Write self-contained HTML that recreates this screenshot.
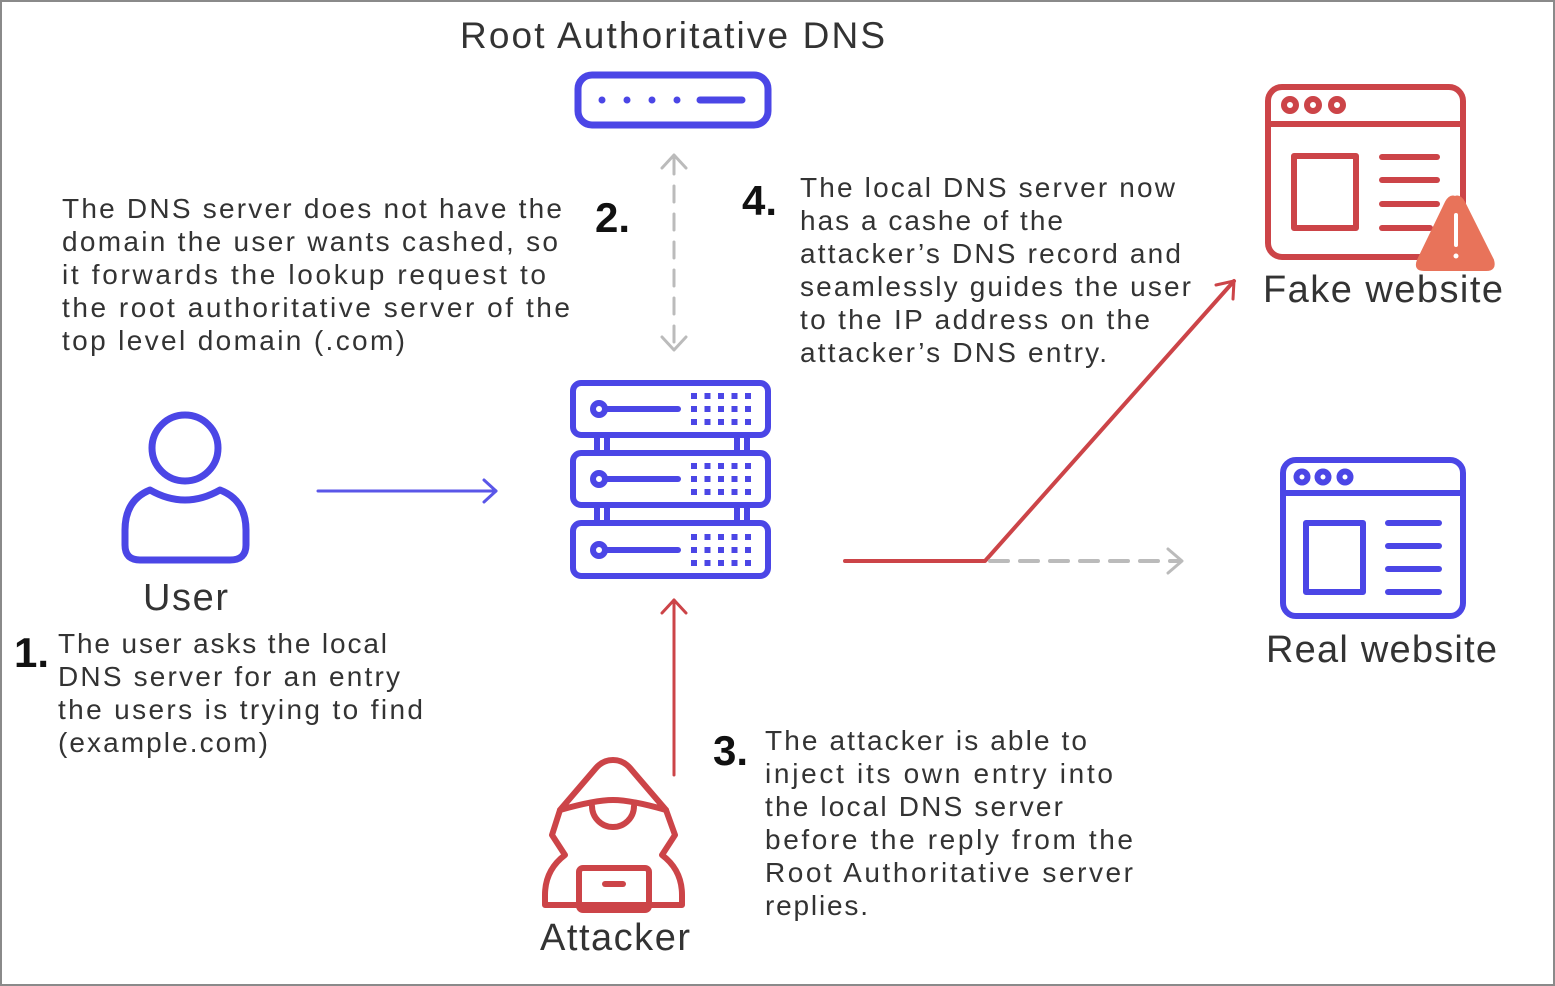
<!DOCTYPE html>
<html><head><meta charset="utf-8"><style>
html,body{margin:0;padding:0;background:#fff}
svg{display:block}
text{font-family:"Liberation Sans",sans-serif;fill:#333}
</style></head><body>
<svg width="1555" height="986" viewBox="0 0 1555 986" xmlns="http://www.w3.org/2000/svg">
<rect x="1" y="1" width="1553" height="984" fill="#fff" stroke="#8a8a8a" stroke-width="2"/>
<g fill="none" stroke-linecap="round" stroke-linejoin="round">
<rect x="578" y="75" width="190" height="50" rx="14" stroke="#4b46e6" stroke-width="7"/>
<g fill="#4b46e6" stroke="none"><circle cx="602" cy="100" r="3.5"/><circle cx="627" cy="100" r="3.5"/><circle cx="652" cy="100" r="3.5"/><circle cx="677" cy="100" r="3.5"/></g>
<line x1="700" y1="100" x2="742" y2="100" stroke="#4b46e6" stroke-width="7"/>
<g stroke="#4b46e6" stroke-width="6">
<rect x="573" y="383" width="195" height="52" rx="8"/>
<rect x="573" y="453" width="195" height="52" rx="8"/>
<rect x="573" y="523" width="195" height="53" rx="8"/>
<line x1="597" y1="435" x2="597" y2="453"/><line x1="607" y1="435" x2="607" y2="453"/>
<line x1="737" y1="435" x2="737" y2="453"/><line x1="747" y1="435" x2="747" y2="453"/>
<line x1="597" y1="505" x2="597" y2="523"/><line x1="607" y1="505" x2="607" y2="523"/>
<line x1="737" y1="505" x2="737" y2="523"/><line x1="747" y1="505" x2="747" y2="523"/>
<circle cx="599" cy="409" r="6"/><line x1="606" y1="409" x2="678" y2="409"/>
<circle cx="599" cy="479" r="6"/><line x1="606" y1="479" x2="678" y2="479"/>
<circle cx="599" cy="550" r="6"/><line x1="606" y1="550" x2="678" y2="550"/>
</g>
<g stroke="#4b46e6" stroke-width="6" stroke-dasharray="6 7.5" stroke-linecap="butt">
<line x1="691" y1="396" x2="752" y2="396"/><line x1="691" y1="409" x2="752" y2="409"/><line x1="691" y1="422" x2="752" y2="422"/>
<line x1="691" y1="466" x2="752" y2="466"/><line x1="691" y1="479" x2="752" y2="479"/><line x1="691" y1="492" x2="752" y2="492"/>
<line x1="691" y1="537" x2="752" y2="537"/><line x1="691" y1="550" x2="752" y2="550"/><line x1="691" y1="563" x2="752" y2="563"/>
</g>
<circle cx="185" cy="448" r="33" stroke="#4b46e6" stroke-width="7"/>
<path d="M150 490 Q185 510 220 490 Q246 500 246 530 L246 545 Q246 560 230 560 L140 560 Q125 560 125 545 L125 530 Q125 500 150 490Z" stroke="#4b46e6" stroke-width="7"/>
<line x1="318" y1="491" x2="496" y2="491" stroke="#5a56e8" stroke-width="3"/>
<path d="M484 480L496 491L484 502" stroke="#5a56e8" stroke-width="3"/>
<line x1="674" y1="158" x2="674" y2="348" stroke="#bbb" stroke-width="3" stroke-dasharray="16 12"/>
<path d="M662 168L674 155L686 168" stroke="#bbb" stroke-width="3"/>
<path d="M662 337L674 350L686 337" stroke="#bbb" stroke-width="3"/>
<line x1="674" y1="775" x2="674" y2="600" stroke="#cc4448" stroke-width="3"/>
<path d="M662 613L674 600L686 613" stroke="#cc4448" stroke-width="3"/>
<path d="M845 561L985 561L1234 281" stroke="#cc4448" stroke-width="4"/>
<path d="M1216 285L1234 281L1233 299" stroke="#cc4448" stroke-width="3"/>
<line x1="990" y1="561" x2="1180" y2="561" stroke="#bbb" stroke-width="4" stroke-dasharray="18 12"/>
<path d="M1168 549L1182 561L1168 573" stroke="#bbb" stroke-width="3"/>
<g stroke="#cc4448" stroke-width="6">
<rect x="1268" y="87" width="195" height="170" rx="14"/>
<line x1="1268" y1="124" x2="1463" y2="124"/>
<circle cx="1290" cy="105" r="6"/><circle cx="1313" cy="105" r="6"/><circle cx="1337" cy="105" r="6"/>
<rect x="1294" y="156" width="62" height="72"/>
<line x1="1382" y1="157" x2="1437" y2="157"/><line x1="1382" y1="180" x2="1437" y2="180"/>
<line x1="1382" y1="204" x2="1437" y2="204"/><line x1="1382" y1="228" x2="1430" y2="228"/>
</g>
<path d="M1455 197 Q1460 195 1464 202 L1493 260 Q1496 270 1486 270 L1424 270 Q1414 270 1418 260 L1446 202 Q1450 195 1455 197Z" fill="#e8735a" stroke="#e8735a" stroke-width="2"/>
<line x1="1456" y1="215" x2="1456" y2="245" stroke="#fff" stroke-width="4"/>
<circle cx="1456" cy="256" r="2.5" fill="#fff" stroke="none"/>
<g stroke="#4b46e6" stroke-width="6">
<rect x="1283" y="460" width="180" height="156" rx="13"/>
<line x1="1283" y1="493" x2="1463" y2="493"/>
<circle cx="1302" cy="477" r="5.5"/><circle cx="1323" cy="477" r="5.5"/><circle cx="1345" cy="477" r="5.5"/>
<rect x="1306" y="523" width="57" height="69"/>
<line x1="1388" y1="523" x2="1439" y2="523"/><line x1="1388" y1="546" x2="1439" y2="546"/>
<line x1="1388" y1="569" x2="1439" y2="569"/><line x1="1388" y1="592" x2="1439" y2="592"/>
</g>
<g stroke="#cc4448" stroke-width="6">
<path d="M613 760 Q603 760 596 768 L560 810 Q595 800 613 800 Q631 800 666 810 L630 768 Q623 760 613 760Z"/>
<path d="M560 810 L552 835 L565 855 Q545 870 545 895 L545 905 L682 905 L682 895 Q682 870 662 855 L675 835 L666 810"/>
<path d="M592 806 A21 21 0 1 0 634 806"/>
<rect x="579" y="868" width="70" height="42" rx="4"/>
<line x1="605" y1="884" x2="623" y2="884"/>
</g>
</g>
<text x="460" y="48" font-size="37" textLength="425">Root Authoritative DNS</text>
<text x="143" y="610" font-size="38" textLength="85">User</text>
<text x="540" y="950" font-size="38" textLength="150">Attacker</text>
<text x="1263" y="302" font-size="38" textLength="240">Fake website</text>
<text x="1266" y="662" font-size="38" textLength="231">Real website</text>
<g font-weight="bold" font-size="42">
<text x="14" y="667" style="fill:#111">1.</text>
<text x="595" y="232" style="fill:#111">2.</text>
<text x="713" y="765" style="fill:#111">3.</text>
<text x="742" y="215" style="fill:#111">4.</text>
</g>
<g font-size="28">
<text x="62" y="218" textLength="500">The DNS server does not have the</text>
<text x="62" y="251" textLength="496">domain the user wants cashed, so</text>
<text x="62" y="284" textLength="484">it forwards the lookup request to</text>
<text x="62" y="317" textLength="508">the root authoritative server of the</text>
<text x="62" y="350" textLength="343">top level domain (.com)</text>
<text x="800" y="197" textLength="375">The local DNS server now</text>
<text x="800" y="230" textLength="263">has a cashe of the</text>
<text x="800" y="263" textLength="381">attacker’s DNS record and</text>
<text x="800" y="296" textLength="391">seamlessly guides the user</text>
<text x="800" y="329" textLength="350">to the IP address on the</text>
<text x="800" y="362" textLength="307">attacker’s DNS entry.</text>
<text x="58" y="653" textLength="329">The user asks the local</text>
<text x="58" y="686" textLength="342">DNS server for an entry</text>
<text x="58" y="719" textLength="365">the users is trying to find</text>
<text x="58" y="752" textLength="210">(example.com)</text>
<text x="765" y="750" textLength="322">The attacker is able to</text>
<text x="765" y="783" textLength="348">inject its own entry into</text>
<text x="765" y="816" textLength="298">the local DNS server</text>
<text x="765" y="849" textLength="368">before the reply from the</text>
<text x="765" y="882" textLength="368">Root Authoritative server</text>
<text x="765" y="915" textLength="103">replies.</text>
</g>
</svg>
</body></html>
